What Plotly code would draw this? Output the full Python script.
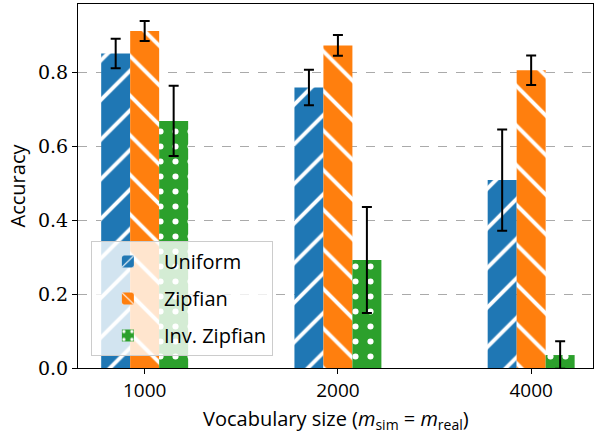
import plotly.graph_objects as go

categories = ["1000", "2000", "4000"]
series_names = ["Uniform", "Zipfian", "Inv. Zipfian"]
uniform = [0.85, 0.758, 0.508]
uniform_err = [0.040, 0.048, 0.137]
zipfian = [0.911, 0.872, 0.805]
zipfian_err = [0.027, 0.028, 0.040]
inv_zipfian = [0.668, 0.292, 0.035]
inv_zipfian_err = [0.095, 0.143, 0.037]
y_ticks = [0.0, 0.2, 0.4, 0.6, 0.8]
x_title = "Vocabulary size (<i>m</i><sub>sim</sub> = <i>m</i><sub>real</sub>)"

colors = ["#1f77b4", "#ff7f0e", "#2ca02c"]
shapes = ["/", "\\", "."]
sizes = [28, 28, 15]
solid = [0.14, 0.14, 0.13]
values = [uniform, zipfian, inv_zipfian]
errors = [uniform_err, zipfian_err, inv_zipfian_err]
offsets = [-0.225, -0.075, 0.075]
xpos = list(range(len(categories)))

fig = go.Figure()
for i, name in enumerate(series_names):
    fig.add_trace(go.Bar(
        x=xpos, y=values[i], name=name, width=0.15, offset=offsets[i],
        legendgroup=name,
        marker=dict(color=colors[i], line=dict(width=0),
                    pattern=dict(shape=shapes[i], fgcolor="white", bgcolor=colors[i],
                                 fgopacity=1, size=sizes[i], solidity=solid[i])),
        error_y=dict(type="data", array=errors[i], color="black", thickness=2, width=5),
    ))

fig.add_annotation(text=x_title, xref="paper", yref="paper", x=0.5, y=-0.142,
                   xanchor="center", yanchor="middle", showarrow=False,
                   font=dict(family="Open Sans", size=20, color="black"))

fig.update_layout(
    width=598, height=431,
    margin=dict(l=78, r=5, t=4, b=63),
    plot_bgcolor="white", paper_bgcolor="white",
    showlegend=True,
    barmode="overlay",
    legend=dict(x=0.025, y=0.033, xanchor="left", yanchor="bottom",
                bgcolor="rgba(255,255,255,0.8)", bordercolor="#cccccc", borderwidth=1,
                font=dict(family="Open Sans", size=20, color="black"),
                tracegroupgap=8, itemwidth=62),
    xaxis=dict(range=[-0.345, 2.32], tickvals=xpos, ticktext=categories,
               automargin=False,
               showline=True, linecolor="black", linewidth=1, mirror=True,
               ticks="outside", ticklen=5, tickcolor="black", showgrid=False, zeroline=False,
               tickfont=dict(family="Open Sans", size=19, color="black")),
    yaxis=dict(range=[0, 0.984], tickvals=y_ticks, ticktext=["0.0", "0.2", "0.4", "0.6", "0.8"],
               automargin=False,
               showline=True, linecolor="black", linewidth=1, mirror=True,
               ticks="outside", ticklen=5, tickcolor="black",
               showgrid=True, gridcolor="#aaaaaa", griddash="dash", gridwidth=1, zeroline=False,
               tickfont=dict(family="DejaVu Serif", size=19, color="black"),
               title=dict(text="Accuracy", font=dict(family="Open Sans", size=20, color="black"),
                          standoff=6)),
)

fig.write_html("out.html", config={"displayModeBar": False},
               post_script="document.body.style.margin='0';")
